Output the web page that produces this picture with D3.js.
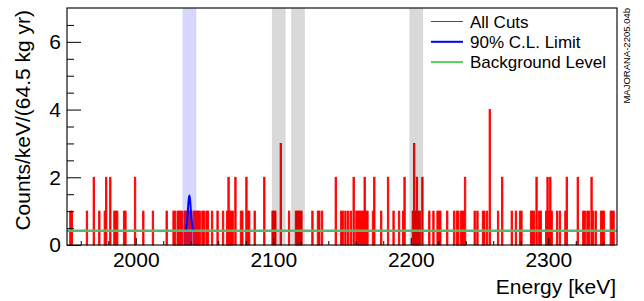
<!DOCTYPE html>
<html>
<head>
<meta charset="utf-8">
<script src="https://cdn.jsdelivr.net/npm/d3@7"></script>
<style>
    body { margin: 0; background: #fff; }
    text { font-family: "Liberation Sans", Arial, Helvetica, sans-serif; fill: #000; }
</style>
</head>
<body>
<div id="drawing_region"></div>
<script>
// 1 keV bins that have events (lower edge, keV) and their counts
const bin_keV = [
    1952, 1953, 1964, 1969, 1973, 1977, 1978, 1981, 1984, 1985, 1986, 1991, 1992, 1999,
    2005, 2012, 2022, 2027, 2028,
    2030, 2031, 2032, 2033, 2035, 2036, 2037, 2038, 2039, 2040, 2042, 2043, 2044, 2045,
    2046, 2048, 2049, 2051, 2052, 2055, 2059, 2063,
    2066, 2067, 2068, 2069, 2070, 2072, 2076, 2077, 2080, 2081, 2082, 2086, 2093,
    2099, 2100, 2101, 2105, 2111, 2116, 2117, 2118, 2119, 2120, 2128, 2132, 2133, 2135,
    2145, 2149, 2150, 2152, 2154, 2156, 2158,
    2160, 2161, 2162, 2163, 2164, 2165, 2166, 2167, 2168, 2172, 2173, 2178, 2183, 2187,
    2191, 2194, 2195, 2201, 2202, 2203, 2204, 2205, 2206, 2208, 2213, 2216, 2219, 2220, 2221,
    2226, 2231, 2233, 2234, 2236, 2237, 2238, 2239, 2246, 2248, 2252, 2253, 2255, 2257,
    2263, 2266, 2273, 2276, 2279, 2280, 2287, 2288, 2289, 2291, 2293, 2294,
    2298, 2299, 2300, 2301, 2302, 2306, 2308, 2312, 2313, 2321,
    2325, 2326, 2328, 2329, 2331, 2332, 2334, 2338, 2339, 2340, 2345, 2346, 2347
];
const bin_counts = [
    1, 1, 1, 2, 1, 1, 2, 2, 1, 1, 1, 1, 1, 2,
    1, 1, 1, 1, 1,
    1, 1, 1, 1, 1, 1, 1, 1, 1, 1, 1, 1, 1, 1,
    1, 1, 1, 1, 1, 1, 1, 1,
    1, 2, 1, 1, 1, 2, 1, 1, 2, 1, 1, 1, 2,
    1, 1, 1, 3, 1, 1, 1, 1, 1, 1, 1, 1, 1, 1,
    2, 1, 1, 1, 1, 1, 2,
    1, 1, 1, 1, 1, 1, 2, 1, 1, 1, 2, 1, 2, 1,
    1, 1, 2, 1, 3, 1, 2, 1, 1, 2, 1, 1, 1, 1, 1,
    1, 1, 1, 1, 1, 1, 1, 2, 1, 1, 1, 1, 1, 4,
    1, 2, 1, 1, 1, 1, 1, 1, 1, 2, 1, 1,
    1, 2, 1, 2, 1, 1, 1, 1, 2, 2,
    1, 1, 1, 1, 2, 1, 1, 1, 1, 1, 1, 1, 1
];

// excluded gamma windows and the signal window (keV)
const gamma_windows = [[2099, 2109], [2113, 2123], [2199, 2209]];
const signal_window = [2034, 2044];

// flat background level (counts/keV)
const bkg_level = 0.42;

// 90% C.L. limit curve
const limit_keV   = [2035, 2036, 2036.5, 2037, 2037.5, 2038, 2038.5, 2039, 2039.5, 2040, 2040.5, 2041, 2041.5, 2042, 2043];
const limit_value = [0.42, 0.43, 0.47, 0.58, 0.78, 1.06, 1.34, 1.46, 1.34, 1.06, 0.78, 0.58, 0.47, 0.43, 0.42];

const xticks_major = [2000, 2100, 2200, 2300];
const yticks_major = [0, 2, 4, 6];
const legend_labels = ["All Cuts", "90% C.L. Limit", "Background Level"];
const legend_colors = ["#ff0000", "#0000ff", "#5ccc5c"];

var config = {
    parent: '#drawing_region',
    width: 644,
    height: 301,
    margin: {top: 8, right: 27, bottom: 56, left: 67}
};

class SpectrumChart {

    constructor( config ) {
        this.config = config;
        this.data = bin_keV.map( (e, i) => ({ e: e, n: bin_counts[i] }) );
        this.init();
    }

    init() {
        let self = this;

        self.svg = d3.select( self.config.parent )
            .append('svg')
            .attr('width', self.config.width)
            .attr('height', self.config.height);

        self.chart = self.svg.append('g')
            .attr('transform', `translate(${self.config.margin.left}, ${self.config.margin.top})`);

        self.inner_width = self.config.width - self.config.margin.left - self.config.margin.right;
        self.inner_height = self.config.height - self.config.margin.top - self.config.margin.bottom;

        self.xscale = d3.scaleLinear()
            .domain([1950, 2350])
            .range([0, self.inner_width]);

        self.yscale = d3.scaleLinear()
            .domain([0, 7])
            .range([self.inner_height, 0]);
    }

    render() {
        let self = this;
        const x = self.xscale, y = self.yscale;

        // histogram
        self.chart.append('g').selectAll('rect')
            .data(self.data)
            .join('rect')
            .attr('x', d => x(d.e))
            .attr('width', d => x(d.e + 1) - x(d.e))
            .attr('y', d => y(d.n))
            .attr('height', d => y(0) - y(d.n))
            .attr('fill', '#ff0000')
            .attr('stroke', '#ff0000')
            .attr('stroke-width', 0.9);

        // windows
        self.chart.append('g').selectAll('rect')
            .data(gamma_windows)
            .join('rect')
            .attr('x', d => x(d[0]))
            .attr('width', d => x(d[1]) - x(d[0]))
            .attr('y', 0)
            .attr('height', self.inner_height)
            .attr('fill', 'rgba(0,0,0,0.15)');

        self.chart.append('rect')
            .attr('x', x(signal_window[0]))
            .attr('width', x(signal_window[1]) - x(signal_window[0]))
            .attr('y', 0)
            .attr('height', self.inner_height)
            .attr('fill', 'rgba(50,50,255,0.2)');

        // limit curve
        const line = d3.line()
            .x(d => x(d[0]))
            .y(d => y(d[1]))
            .curve(d3.curveMonotoneX);
        self.chart.append('path')
            .datum(limit_keV.map((e, i) => [e, limit_value[i]]))
            .attr('d', line)
            .attr('fill', 'none')
            .attr('stroke', '#0000ff')
            .attr('stroke-width', 2);

        // background level
        self.chart.append('line')
            .attr('x1', x(1950)).attr('x2', x(2350))
            .attr('y1', y(bkg_level)).attr('y2', y(bkg_level))
            .attr('stroke', '#55b86a')
            .attr('stroke-width', 2.5);

        // axes: ticks point inward
        const xmajor = d3.axisBottom(x).tickValues(xticks_major).tickFormat(d3.format('d'))
            .tickSizeInner(-7).tickSizeOuter(0).tickPadding(7);
        const xminor = d3.axisBottom(x).tickValues(d3.range(1960, 2350, 20).filter(v => v % 100 != 0))
            .tickFormat('').tickSizeInner(-4).tickSizeOuter(0);
        const ymajor = d3.axisLeft(y).tickValues(yticks_major).tickFormat(d3.format('d'))
            .tickSizeInner(-14).tickSizeOuter(0).tickPadding(6);
        const yminor = d3.axisLeft(y).tickValues(d3.range(0.5, 7, 0.5).filter(v => v % 2 != 0))
            .tickFormat('').tickSizeInner(-7).tickSizeOuter(0);

        [xmajor, xminor].forEach(a => {
            self.chart.append('g')
                .attr('transform', `translate(0, ${self.inner_height})`)
                .call(a);
        });
        [ymajor, yminor].forEach(a => {
            self.chart.append('g').call(a);
        });
        self.chart.selectAll('.domain').remove();
        self.chart.selectAll('.tick line').attr('stroke', '#000');
        self.chart.selectAll('.tick text')
            .style('font-size', '21px')
            .style('font-family', '"Liberation Sans", Arial, sans-serif');

        // frame
        self.chart.append('rect')
            .attr('x', 0).attr('y', 0)
            .attr('width', self.inner_width)
            .attr('height', self.inner_height)
            .attr('fill', 'none')
            .attr('stroke', '#111')
            .attr('stroke-width', 1.2);

        // axis titles
        self.svg.append('text')
            .attr('transform', 'translate(30, 10) rotate(-90)')
            .attr('text-anchor', 'end')
            .style('font-size', '21px')
            .text('Counts/keV/(64.5 kg yr)');

        self.svg.append('text')
            .attr('x', 616).attr('y', 294)
            .attr('text-anchor', 'end')
            .style('font-size', '21px')
            .text('Energy [keV]');

        // legend
        const legend = self.svg.append('g');
        legend_labels.forEach((label, i) => {
            const ly = 21.5 + i * 20.3;
            legend.append('line')
                .attr('x1', 431).attr('x2', 463)
                .attr('y1', ly).attr('y2', ly)
                .attr('stroke', legend_colors[i])
                .attr('stroke-width', i == 0 ? 1 : 2);
            legend.append('text')
                .attr('x', 470).attr('y', ly + 6)
                .style('font-size', '17px')
                .text(label);
        });

        // figure id
        self.svg.append('text')
            .attr('transform', 'translate(630, 8) rotate(-90)')
            .attr('text-anchor', 'end')
            .style('font-size', '9.5px')
            .text('MAJORANA-2205.04b');
    }
}

const spectrum_chart = new SpectrumChart( config );
spectrum_chart.render();
</script>
</body>
</html>
